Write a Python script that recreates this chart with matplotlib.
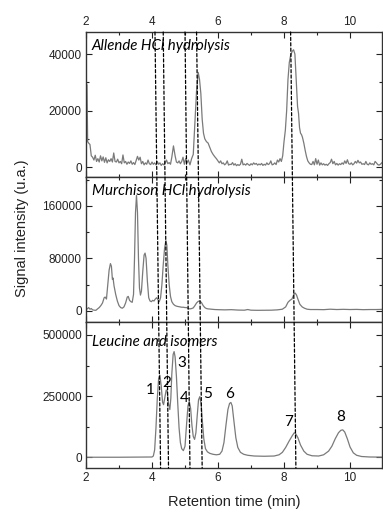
import matplotlib
matplotlib.use("Agg")
import matplotlib.pyplot as plt
from matplotlib.patches import ConnectionPatch
from matplotlib.ticker import MultipleLocator

plt.rcParams["font.family"] = ["Liberation Sans", "DejaVu Sans"]

# Allende HCl hydrolysis (time in min, signal in counts)
allende_time = [2.00, 2.03, 2.05, 2.08, 2.12, 2.16, 2.20, 2.24, 2.28, 2.32, 2.36, 2.40, 2.44, 2.48,
                2.52, 2.56, 2.60, 2.64, 2.68, 2.72, 2.76, 2.80, 2.84, 2.88, 2.92, 2.96, 3.00, 3.04,
                3.08, 3.12, 3.16, 3.20, 3.24, 3.28, 3.32, 3.36, 3.40, 3.44, 3.48, 3.52, 3.56, 3.60,
                3.64, 3.68, 3.72, 3.76, 3.80, 3.84, 3.88, 3.92, 3.96, 4.00, 4.04, 4.08, 4.12, 4.16,
                4.20, 4.24, 4.28, 4.32, 4.36, 4.40, 4.44, 4.48, 4.52, 4.56, 4.60, 4.65, 4.70, 4.74,
                4.78, 4.82, 4.86, 4.90, 4.94, 4.98, 5.02, 5.06, 5.10, 5.15, 5.20, 5.25, 5.30, 5.35,
                5.40, 5.44, 5.48, 5.52, 5.56, 5.60, 5.65, 5.70, 5.75, 5.80, 5.85, 5.90, 5.95, 6.00,
                6.04, 6.08, 6.12, 6.16, 6.20, 6.24, 6.28, 6.32, 6.36, 6.40, 6.44, 6.48, 6.52, 6.56,
                6.60, 6.64, 6.68, 6.72, 6.76, 6.80, 6.84, 6.88, 6.92, 6.96, 7.00, 7.04, 7.08, 7.12,
                7.16, 7.20, 7.24, 7.28, 7.32, 7.36, 7.40, 7.44, 7.48, 7.52, 7.56, 7.60, 7.64, 7.68,
                7.72, 7.76, 7.80, 7.84, 7.88, 7.92, 7.96, 8.00, 8.04, 8.08, 8.12, 8.16, 8.20, 8.25,
                8.29, 8.33, 8.36, 8.39, 8.41, 8.44, 8.47, 8.50, 8.53, 8.56, 8.60, 8.64, 8.68, 8.72,
                8.76, 8.80, 8.84, 8.88, 8.92, 8.96, 9.00, 9.04, 9.08, 9.12, 9.16, 9.20, 9.24, 9.28,
                9.32, 9.36, 9.40, 9.44, 9.48, 9.52, 9.56, 9.60, 9.64, 9.68, 9.72, 9.76, 9.80, 9.84,
                9.88, 9.92, 9.96, 10.00, 10.04, 10.08, 10.12, 10.16, 10.20, 10.24, 10.28, 10.32,
                10.36, 10.40, 10.44, 10.48, 10.52, 10.56, 10.60, 10.64, 10.68, 10.72, 10.76, 10.80,
                10.84, 10.88, 10.92, 10.96]
allende_signal = [30000, 29000, 9000, 8500, 8000, 4000, 3500, 2500, 4200, 2000, 3000, 1800, 4000, 2200,
                  3600, 1700, 3300, 1500, 2600, 2000, 3000, 1800, 5000, 2000, 1800, 2800, 1500, 2000,
                  1200, 4300, 1500, 2000, 1000, 1800, 1300, 2200, 1000, 1600, 900, 2400, 3800, 2500,
                  3500, 1200, 2000, 800, 1500, 1000, 2500, 1200, 900, 1800, 1000, 1500, 800, 2000,
                  1000, 1500, 600, 1200, 800, 1500, 2500, 1200, 1600, 1000, 3500, 7500, 4000, 1800,
                  1500, 2200, 1200, 2000, 3500, 1000, 3000, 1500, 2500, 800, 3000, 4500, 16000, 27000,
                  33500, 31000, 26000, 17000, 12000, 10000, 9000, 8500, 7000, 5500, 4500, 3700, 3000, 2200,
                  1500, 2200, 1200, 1500, 800, 1200, 2200, 700, 1000, 900, 1600, 700, 1200, 500,
                  900, 600, 1000, 2800, 800, 1100, 700, 1300, 900, 600, 1200, 800, 1500, 1000,
                  1300, 700, 1100, 800, 1300, 600, 1000, 700, 1500, 900, 1200, 2200, 800, 1000,
                  1500, 900, 2500, 1800, 3000, 2000, 4000, 9000, 13000, 20000, 31000, 37000, 39500, 41000,
                  41500, 40000, 33000, 26000, 21500, 19000, 14000, 12000, 11500, 10500, 8500, 6000, 3800, 2200,
                  1500, 1000, 900, 2000, 800, 3000, 1000, 2500, 700, 1500, 800, 1200, 700, 1000,
                  600, 1200, 1600, 2800, 1200, 2000, 800, 1300, 700, 1200, 900, 1500, 1000, 2200,
                  1300, 2600, 1200, 1000, 1500, 800, 1200, 2000, 1400, 2400, 1500, 1800,
                  1000, 1200, 900, 2000, 1000, 800, 1500, 1000, 1200, 800, 2000, 1500,
                  900, 700, 1000, 1500]

# Murchison HCl hydrolysis
murchison_time = [2.00, 2.04, 2.08, 2.12, 2.16, 2.20, 2.25, 2.30, 2.35, 2.40, 2.45, 2.50, 2.55, 2.58,
                  2.62, 2.66, 2.70, 2.74, 2.77, 2.80, 2.82, 2.85, 2.90, 2.95, 3.00, 3.05, 3.10, 3.15,
                  3.20, 3.25, 3.28, 3.32, 3.36, 3.40, 3.44, 3.47, 3.50, 3.53, 3.56, 3.59, 3.62, 3.65,
                  3.68, 3.72, 3.76, 3.79, 3.82, 3.86, 3.90, 3.94, 3.98, 4.02, 4.06, 4.10, 4.14, 4.18,
                  4.22, 4.26, 4.30, 4.34, 4.38, 4.42, 4.45, 4.48, 4.52, 4.56, 4.60, 4.65, 4.70, 4.75,
                  4.80, 4.85, 4.90, 4.95, 5.00, 5.05, 5.10, 5.15, 5.20, 5.25, 5.30, 5.35, 5.40, 5.45,
                  5.50, 5.55, 5.60, 5.65, 5.70, 5.80, 5.90, 6.00, 6.20, 6.40, 6.60, 6.80, 6.90, 7.00,
                  7.20, 7.40, 7.60, 7.80, 7.95, 8.05, 8.12, 8.18, 8.24, 8.30, 8.34, 8.38, 8.42, 8.48,
                  8.55, 8.62, 8.70, 8.80, 9.00, 9.20, 9.40, 9.60, 9.80, 10.00, 10.20, 10.40, 10.60,
                  10.80, 10.96]
murchison_signal = [4000, 3000, 5000, 2500, 3500, 1500, 1000, 800, 3000, 5000, 8000, 12000, 20000, 21000,
                    18000, 40000, 62000, 72000, 68000, 48000, 50000, 38000, 25000, 15000, 8000, 5000, 4000, 6000,
                    12000, 21000, 22000, 16000, 14000, 13000, 25000, 80000, 150000, 176000, 150000, 80000, 35000, 24000,
                    30000, 60000, 85000, 88000, 80000, 45000, 20000, 15000, 14000, 16000, 15000, 18000, 20000, 17000,
                    14000, 20000, 40000, 70000, 95000, 107000, 100000, 70000, 40000, 22000, 14000, 10000, 8000, 7000,
                    6500, 6000, 5500, 5500, 5000, 5000, 3500, 3000, 3500, 4500, 8000, 12000, 14500, 15000,
                    12500, 8000, 5000, 3500, 3000, 2500, 2000, 1800, 1500, 1800, 1200, 1000, 2000, 1000,
                    800, 900, 1000, 1500, 2500, 6000, 13000, 16000, 18000, 25000, 27000, 24000, 18000, 10000,
                    6000, 4000, 2500, 2000, 2000, 1800, 2500, 2000, 2300, 2000, 2200, 1800, 2000,
                    2000, 2200]

# Leucine and isomers standard
leucine_time = [2.00, 3.00, 4.00, 4.04, 4.08, 4.12, 4.16, 4.20, 4.24, 4.28, 4.32, 4.35, 4.39, 4.43,
                4.46, 4.50, 4.54, 4.57, 4.60, 4.64, 4.67, 4.70, 4.74, 4.78, 4.82, 4.86, 4.90, 4.95,
                5.00, 5.05, 5.09, 5.13, 5.17, 5.21, 5.25, 5.29, 5.33, 5.37, 5.41, 5.45, 5.49, 5.53,
                5.57, 5.62, 5.68, 5.75, 5.85, 5.95, 6.05, 6.12, 6.18, 6.24, 6.30, 6.35, 6.39, 6.43,
                6.48, 6.54, 6.60, 6.68, 6.78, 6.90, 7.10, 7.40, 7.70, 7.85, 7.95, 8.05, 8.15, 8.25,
                8.31, 8.35, 8.42, 8.50, 8.60, 8.70, 8.85, 9.05, 9.20, 9.35, 9.45, 9.55, 9.65, 9.72,
                9.78, 9.84, 9.92, 10.00, 10.10, 10.20, 10.35, 10.60, 10.96]
leucine_signal = [0, 0, 1000, 5000, 30000, 120000, 240000, 320000, 335000, 290000, 225000, 215000, 245000, 275000,
                  270000, 220000, 195000, 240000, 340000, 420000, 432000, 410000, 330000, 220000, 120000, 60000, 35000, 27000,
                  45000, 140000, 210000, 228000, 200000, 130000, 85000, 73000, 100000, 170000, 235000, 248000, 215000, 140000,
                  75000, 35000, 22000, 16000, 12000, 10000, 12000, 25000, 60000, 130000, 195000, 220000, 224000, 210000,
                  150000, 80000, 40000, 20000, 12000, 8000, 5000, 4000, 5000, 10000, 20000, 40000, 65000, 88000,
                  100000, 97000, 80000, 50000, 25000, 12000, 6000, 5000, 10000, 25000, 45000, 75000, 100000, 110000,
                  112000, 103000, 75000, 42000, 18000, 8000, 3000, 1000, 500]

peak_labels = ["1", "2", "3", "4", "5", "6", "7", "8"]
peak_label_time = [3.96, 4.44, 4.90, 4.98, 5.68, 6.34, 8.13, 9.72]
peak_label_signal = [275000, 305000, 384000, 242000, 257000, 257000, 146000, 163000]

# dashed guide lines: retention time at top of first panel and at bottom of last panel
guide_time_top = [4.09, 4.34, 5.00, 5.35, 8.20]
guide_time_bottom = [4.26, 4.50, 5.15, 5.52, 8.36]

panel_titles = ["Allende HCl hydrolysis", "Murchison HCl hydrolysis", "Leucine and isomers"]

W, H = 383, 518
fig = plt.figure(figsize=(W / 100, H / 100), dpi=100)

left = 86 / W
width = 295.7 / W
panel_px = [(32, 177), (177, 322), (322, 468)]
axes = []
for top, bot in panel_px:
    ax = fig.add_axes([left, 1 - bot / H, width, (bot - top) / H])
    axes.append(ax)

ylims = [(-3500, 47800), (-17000, 204000), (-44000, 553000)]
ymajor = [20000, 80000, 250000]
traces = [(allende_time, allende_signal), (murchison_time, murchison_signal), (leucine_time, leucine_signal)]
title_offset = [14, 14, 20]

for i, ax in enumerate(axes):
    t, s = traces[i]
    ax.plot(t, s, color="#7a7a7a", lw=0.9)
    ax.set_xlim(2, 10.96)
    ax.set_ylim(*ylims[i])
    ax.xaxis.set_major_locator(MultipleLocator(2))
    ax.xaxis.set_minor_locator(MultipleLocator(1))
    ax.yaxis.set_major_locator(MultipleLocator(ymajor[i]))
    ax.yaxis.set_minor_locator(MultipleLocator(ymajor[i] / 2))
    ax.tick_params(which="both", direction="in", top=True, right=True,
                   labelsize=8.5, colors="#222222", pad=3)
    ax.tick_params(which="major", length=4, width=0.8)
    ax.tick_params(which="minor", length=2.5, width=0.8)
    for sp in ax.spines.values():
        sp.set_linewidth(1.0)
        sp.set_color("#333333")
    ax.text(0.02, 1 - title_offset[i] / (panel_px[i][1] - panel_px[i][0]), panel_titles[i],
            transform=ax.transAxes, style="italic", family="Lato", fontsize=10.8,
            va="center", ha="left")

axes[0].tick_params(labeltop=True, labelbottom=False)
axes[1].tick_params(labelbottom=False)

for lab, tx, sy in zip(peak_labels, peak_label_time, peak_label_signal):
    axes[2].text(tx, sy, lab, family="Lato", fontsize=11, ha="center", va="center")

for t0, t1 in zip(guide_time_top, guide_time_bottom):
    con = ConnectionPatch(xyA=(t0, ylims[0][1]), coordsA=axes[0].transData,
                          xyB=(t1, ylims[2][0]), coordsB=axes[2].transData,
                          color="black", lw=0.9, linestyle=(0, (2.5, 1.8)))
    fig.add_artist(con)

axes[2].set_xlabel("Retention time (min)", fontsize=10.5, color="#222222", labelpad=8)
fig.text(22 / W, 1 - 228 / H, "Signal intensity (u.a.)", rotation=90, fontsize=10.5,
         ha="center", va="center", color="#222222")

fig.savefig("out.png", dpi=100)
